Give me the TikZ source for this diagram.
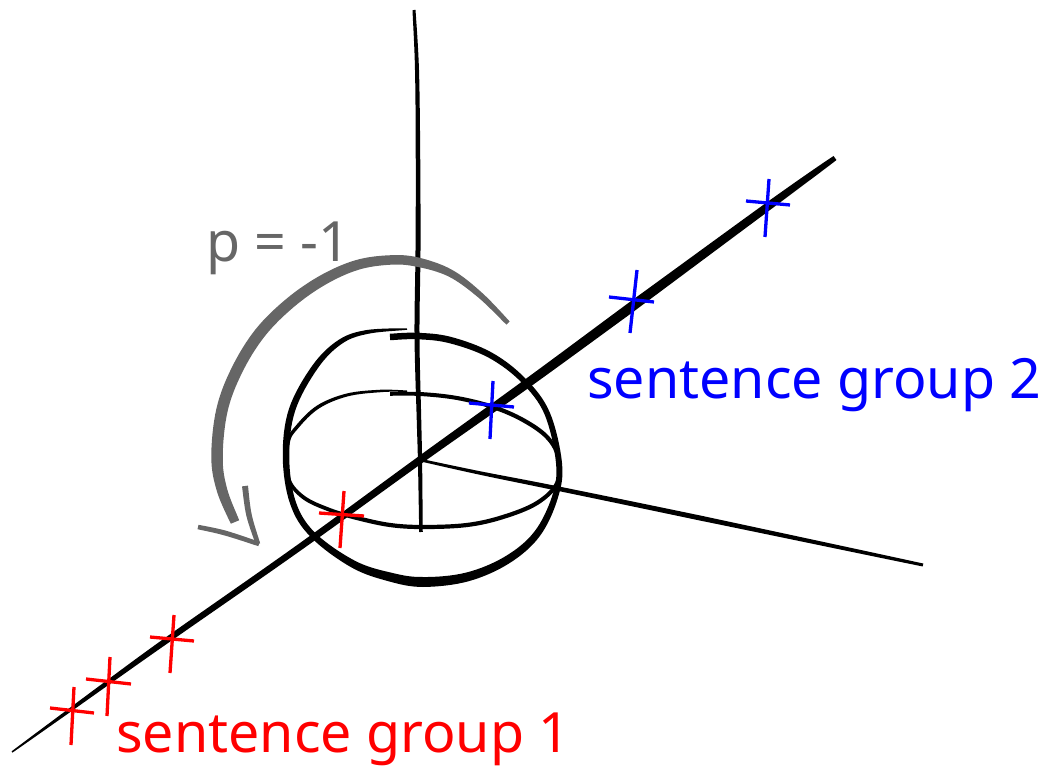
\documentclass[tikz,border=0pt]{standalone}
\usepackage{fontspec}
\setmainfont{Noto Sans}
\definecolor{penGray}{HTML}{666666}
\definecolor{penRed}{HTML}{FF0000}
\definecolor{penBlue}{HTML}{0000FF}
\tikzset{
  redcross/.style={draw=penRed,line width=3.3pt},
  bluecross/.style={draw=penBlue,line width=3.3pt},
  lab/.style={anchor=base west,inner sep=0pt,font=\fontsize{55.5}{55.5}\selectfont}
}
\newcount\brn
\newcommand\brsample[2]{%
  \pgfmathtruncatemacro\ia{#1-1}\pgfmathtruncatemacro\ib{#1}%
  \pgfmathtruncatemacro\ic{#1+1}\pgfmathtruncatemacro\id{#1+2}%
  \edef\xa{\csname bx\ia\endcsname}\edef\xb{\csname bx\ib\endcsname}%
  \edef\xc{\csname bx\ic\endcsname}\edef\xd{\csname bx\id\endcsname}%
  \edef\ya{\csname by\ia\endcsname}\edef\yb{\csname by\ib\endcsname}%
  \edef\yc{\csname by\ic\endcsname}\edef\yd{\csname by\id\endcsname}%
  \edef\wb{\csname bw\ib\endcsname}\edef\wc{\csname bw\ic\endcsname}%
  \def\tt{#2}%
  \pgfmathsetmacro\X{0.5*(2*\xb+(\xc-\xa)*\tt+(2*\xa-5*\xb+4*\xc-\xd)*\tt*\tt+(-\xa+3*\xb-3*\xc+\xd)*\tt*\tt*\tt)}%
  \pgfmathsetmacro\Y{0.5*(2*\yb+(\yc-\ya)*\tt+(2*\ya-5*\yb+4*\yc-\yd)*\tt*\tt+(-\ya+3*\yb-3*\yc+\yd)*\tt*\tt*\tt)}%
  \pgfmathsetmacro\DX{(\xc-\xa)+2*\tt*(2*\xa-5*\xb+4*\xc-\xd)+3*\tt*\tt*(-\xa+3*\xb-3*\xc+\xd)}%
  \pgfmathsetmacro\DY{(\yc-\ya)+2*\tt*(2*\ya-5*\yb+4*\yc-\yd)+3*\tt*\tt*(-\ya+3*\yb-3*\yc+\yd)}%
  \pgfmathsetmacro\LL{max(veclen(\DX,\DY),0.01)}%
  \pgfmathsetmacro\W{0.5*(\wb+(\wc-\wb)*\tt)}%
  \pgfmathsetmacro\LX{\X-\DY/\LL*\W}\pgfmathsetmacro\LY{\Y+\DX/\LL*\W}%
  \pgfmathsetmacro\RX{\X+\DY/\LL*\W}\pgfmathsetmacro\RY{\Y-\DX/\LL*\W}%
  \ifx\Lp\empty\xdef\Lp{(\LX,\LY)}\else\xdef\Lp{\Lp -- (\LX,\LY)}\fi
  \xdef\Rp{-- (\RX,\RY) \Rp}%
}
\newcommand\brush[2]{%
  \global\brn=0
  \foreach \px/\py/\pw in {#2}{%
    \global\advance\brn by 1
    \expandafter\xdef\csname bx\the\brn\endcsname{\px}%
    \expandafter\xdef\csname by\the\brn\endcsname{\py}%
    \expandafter\xdef\csname bw\the\brn\endcsname{\pw}%
  }%
  \edef\nlast{\the\brn}%
  \pgfmathtruncatemacro\nnext{\nlast+1}%
  \pgfmathtruncatemacro\nprev{\nlast-1}%
  \expandafter\xdef\csname bx0\endcsname{\csname bx1\endcsname}%
  \expandafter\xdef\csname by0\endcsname{\csname by1\endcsname}%
  \expandafter\xdef\csname bx\nnext\endcsname{\csname bx\nlast\endcsname}%
  \expandafter\xdef\csname by\nnext\endcsname{\csname by\nlast\endcsname}%
  \gdef\Lp{}\gdef\Rp{}%
  \foreach \seg in {1,...,\nprev}{%
    \foreach \tv in {0,0.125,0.25,0.375,0.5,0.625,0.75,0.875}{\brsample{\seg}{\tv}}%
  }%
  \brsample{\nprev}{1}%
  \fill[#1] \Lp \Rp -- cycle;
}
\begin{document}
\begin{tikzpicture}[x=1pt,y=-1pt]
\useasboundingbox (0,0) rectangle (1047,767);
% right axis
\brush{black}{420/460/2.5, 480/473/3.5, 555/488/4.5, 700/518/5, 923/565/3}
% vertical axis
\brush{black}{414/10/3, 417/70/4, 418/160/4.5, 418/250/5, 417/336/5, 419/420/4.5, 420/460/4.2, 421/532/3.5}
% sphere outline
\brush{black}{390/337/6.5, 417/336/6.5, 450/340/6.5, 490/355/6, 523/380/5.5, 547/413/5.5, 559/463/6, 555/497/6, 537/534/7, 507/560/8, 467/577/9, 423/582/10, 390/577/9, 353/564/7.5, 313/535/6, 293/503/6, 286/457/6.5, 292/410/6.5, 315/367/6, 340/342/5, 367/332/4, 407/329/1.5}
% equator
\brush{black}{390/394/3.5, 420/394/4, 457/398/4, 493/407/4.2, 523/420/4.2, 547/437/4.2, 558/457/3.8, 557/483/3.8, 537/503/4.2, 503/517/4.2, 467/525/4.2, 423/527/4.2, 390/525/4.2, 357/518/4.2, 330/510/3.8, 303/497/3.8, 288/477/3.5, 288/443/3.5, 297/427/3.5, 318/407/3.5, 347/395/3, 380/391/2.5, 407/391/1}
% main axis
\brush{black}{12/752/1.5, 70/710/3.7, 110/681/4.7, 170/638/6, 300/547/6.5, 420/460/7.5, 525/385/9, 630/308/10, 770/205/8, 835/158/5}
% rotation arc
\brush{penGray}{508/323/4.5, 480/295/6, 450/273/7.5, 417/262/9.5, 390/260/9.5, 357/265/10, 323/280/10.5, 290/303/11, 260/333/11.5, 237/370/11.5, 222/410/11.5, 217/457/11.5, 222/490/10.5, 235/522/9}
\brush{penGray}{245/486/6, 249/515/5.5, 258/544/4.5}
\brush{penGray}{259/544/4.5, 225/533/5, 198/527/4.5}
% crosses
\draw[redcross] (50,708) -- (94,713);
\draw[redcross] (74,687) -- (71,745);
\draw[redcross] (86,679) -- (131,684);
\draw[redcross] (110,657) -- (107,716);
\draw[redcross] (150,637) -- (194,641);
\draw[redcross] (174,615) -- (170,673);
\draw[redcross] (319,513) -- (364,516);
\draw[redcross] (344,491) -- (340,548);
\draw[bluecross] (469,403) -- (514,407);
\draw[bluecross] (493,381) -- (490,439);
\draw[bluecross] (609,297) -- (654,302);
\draw[bluecross] (637,270) -- (630,333);
\draw[bluecross] (746,201) -- (790,205);
\draw[bluecross] (769,179) -- (765,237);
% labels
\node[lab,text=penGray] (prob) at (206,262) {p = -1};
\node[lab,text=penBlue] (group2) at (587,398) {sentence group 2};
\node[lab,text=penRed] (group1) at (116,752) {sentence group 1};
\end{tikzpicture}
\end{document}
